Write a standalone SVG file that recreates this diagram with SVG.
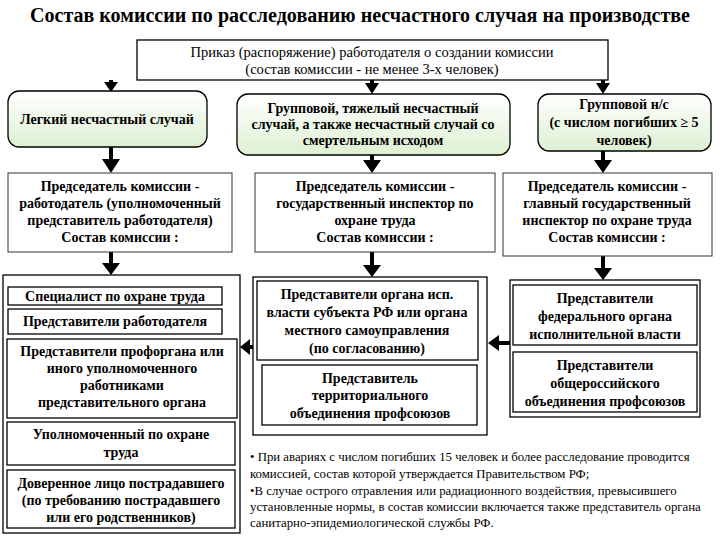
<svg xmlns="http://www.w3.org/2000/svg" width="720" height="540" viewBox="0 0 720 540">
<style>
  text{font-family:"Times New Roman","Liberation Serif","DejaVu Serif",serif;fill:#000}
  .b{font-weight:bold;font-size:14px;text-anchor:middle}
  .title{font-weight:bold;font-size:20px;text-anchor:middle}
  .r{font-size:14.5px;text-anchor:middle}
  .fn{font-size:12.8px}
  .box{fill:#fff;stroke:#000;stroke-width:1.3}
  .thin{fill:#fff;stroke:#333;stroke-width:1}
  .cat{fill:url(#g);stroke:#000;stroke-width:1.3}
  .ar{fill:#000}
</style>
<defs>
  <linearGradient id="g" x1="0" y1="0" x2="0" y2="1">
    <stop offset="0" stop-color="#ffffff"/>
    <stop offset="1" stop-color="#ddf0d2"/>
  </linearGradient>
</defs>
<rect width="720" height="540" fill="#fff"/>
<text class="title" x="360" y="22" textLength="660" lengthAdjust="spacingAndGlyphs">Состав комиссии по расследованию несчастного случая на производстве</text>

<g id="connectors">
  <path class="ar" d="M109,80h4v2h5l-7,10l-7,-10h5z"/>
  <path class="ar" d="M370,80h4v3h5l-7,11l-7,-11h5z"/>
  <path class="ar" d="M601,80h4v3h5l-7,11l-7,-11h5z"/>
  <path class="ar" d="M109,147h4v12h7l-9,14l-9,-14h7z"/>
  <path class="ar" d="M370,155h4v5h7l-9,13l-9,-13h7z"/>
  <path class="ar" d="M601,151h4v9h7l-9,13l-9,-13h7z"/>
  <path class="ar" d="M109,252h4v11h7l-9,12l-9,-12h7z"/>
  <path class="ar" d="M370,252h4v13h7l-9,12l-9,-12h7z"/>
  <path class="ar" d="M601,256h4v12h7l-9,12l-9,-12h7z"/>
  <path class="ar" d="M253,345v4h-3v6l-10,-8l10,-8v6z"/>
  <path class="ar" d="M510,341v4h-11v6l-11,-8l11,-8v6z"/>
</g>

<g id="order">
  <rect class="box" x="137" y="40" width="471" height="40"/>
  <text class="r" x="372" y="57">Приказ (распоряжение) работодателя о создании комиссии</text>
  <text class="r" x="372" y="74">(состав комиссии - не менее 3-х человек)</text>
</g>

<g id="cat-light">
  <rect class="cat" x="8" y="91" width="199" height="56" rx="11"/>
  <text class="b" x="107" y="124">Легкий несчастный случай</text>
</g>
<g id="cat-severe">
  <rect class="cat" x="237" y="94" width="273" height="61" rx="11"/>
  <text class="b" x="373" y="113">Групповой, тяжелый несчастный</text>
  <text class="b" x="373" y="129">случай, а также несчастный случай со</text>
  <text class="b" x="373" y="145">смертельным исходом</text>
</g>
<g id="cat-group">
  <rect class="cat" x="538" y="94" width="173" height="57" rx="11"/>
  <text class="b" x="624" y="109">Групповой н/с</text>
  <text class="b" x="624" y="127">(с числом погибших ≥ 5</text>
  <text class="b" x="624" y="145">человек)</text>
</g>

<g id="chair-left">
  <rect class="thin" x="8" y="173" width="224" height="79"/>
  <text class="b" x="120" y="191">Председатель комиссии -</text>
  <text class="b" x="120" y="208">работодатель (уполномоченный</text>
  <text class="b" x="120" y="225">представитель работодателя)</text>
  <text class="b" x="120" y="242">Состав комиссии :</text>
</g>
<g id="chair-mid">
  <rect class="thin" x="255" y="173" width="240" height="79"/>
  <text class="b" x="375" y="191">Председатель комиссии -</text>
  <text class="b" x="375" y="208">государственный инспектор по</text>
  <text class="b" x="375" y="225">охране труда</text>
  <text class="b" x="375" y="242">Состав комиссии :</text>
</g>
<g id="chair-right">
  <rect class="thin" x="503" y="173" width="209" height="83"/>
  <text class="b" x="607" y="191">Председатель комиссии -</text>
  <text class="b" x="607" y="208">главный государственный</text>
  <text class="b" x="607" y="225">инспектор по охране труда</text>
  <text class="b" x="607" y="242">Состав комиссии :</text>
</g>

<g id="left-group">
  <rect class="box" x="3" y="275" width="237" height="258"/>
  <rect class="box" x="8" y="287" width="214" height="18"/>
  <text class="b" x="115" y="301">Специалист по охране труда</text>
  <rect class="box" x="8" y="309" width="214" height="25"/>
  <text class="b" x="115" y="326">Представители работодателя</text>
  <rect class="box" x="7" y="339" width="230" height="79"/>
  <text class="b" x="122" y="356">Представители профоргана или</text>
  <text class="b" x="122" y="373">иного уполномоченного</text>
  <text class="b" x="122" y="390">работниками</text>
  <text class="b" x="122" y="407">представительного органа</text>
  <rect class="box" x="7" y="422" width="228" height="43"/>
  <text class="b" x="121" y="439">Уполномоченный по охране</text>
  <text class="b" x="121" y="457">труда</text>
  <rect class="box" x="7" y="470" width="228" height="58"/>
  <text class="b" x="121" y="488">Доверенное лицо пострадавшего</text>
  <text class="b" x="121" y="505">(по требованию пострадавшего</text>
  <text class="b" x="121" y="522">или его родственников)</text>
</g>

<g id="mid-group">
  <rect class="box" x="253" y="277" width="234" height="158"/>
  <rect class="box" x="257" y="281" width="221" height="79"/>
  <text class="b" x="367" y="299">Представители органа исп.</text>
  <text class="b" x="367" y="317">власти субъекта РФ или органа</text>
  <text class="b" x="367" y="335">местного самоуправления</text>
  <text class="b" x="367" y="353">(по согласованию)</text>
  <rect class="box" x="262" y="365" width="215" height="60"/>
  <text class="b" x="370" y="383">Представитель</text>
  <text class="b" x="370" y="400">территориального</text>
  <text class="b" x="370" y="418">объединения профсоюзов</text>
</g>

<g id="right-group">
  <rect class="box" x="510" y="280" width="190" height="137"/>
  <rect class="box" x="513" y="285" width="184" height="60"/>
  <text class="b" x="605" y="303">Представители</text>
  <text class="b" x="605" y="321">федерального органа</text>
  <text class="b" x="605" y="339">исполнительной власти</text>
  <rect class="box" x="513" y="352" width="184" height="60"/>
  <text class="b" x="605" y="370">Представители</text>
  <text class="b" x="605" y="388">общероссийского</text>
  <text class="b" x="605" y="406">объединения профсоюзов</text>
</g>

<g id="footnote">
  <text class="fn" x="250" y="461">• При авариях с числом погибших 15 человек и более расследование проводится</text>
  <text class="fn" x="250" y="478">комиссией, состав которой утверждается Правительством РФ;</text>
  <text class="fn" x="250" y="495">•В случае острого отравления или радиационного воздействия, превысившего</text>
  <text class="fn" x="250" y="511">установленные нормы, в состав комиссии включается также представитель органа</text>
  <text class="fn" x="250" y="527">санитарно-эпидемиологической службы РФ.</text>
</g>
</svg>
